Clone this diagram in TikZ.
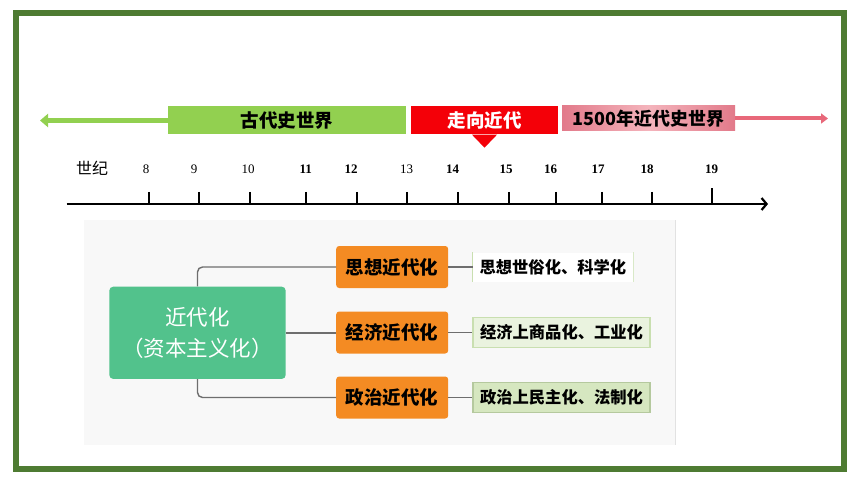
\documentclass[tikz,border=0pt]{standalone}
\usepackage{fontspec}
\setmainfont{Liberation Serif}
\newfontfamily\cjk{Noto Sans CJK SC}
\usetikzlibrary{arrows.meta}
\definecolor{framegreen}{HTML}{4E7B32}
\definecolor{lightgreen}{HTML}{92D050}
\definecolor{redbox}{HTML}{F40008}
\definecolor{pinkbox}{HTML}{F4B4BC}
\definecolor{pinkedge}{HTML}{E27A8A}
\definecolor{pinkarrow}{HTML}{E8687A}
\definecolor{nodegreen}{HTML}{52C28C}
\definecolor{orangebox}{HTML}{F48B23}
\definecolor{connector}{HTML}{6E6E6E}
\definecolor{panelbg}{HTML}{F8F8F8}
\definecolor{paneledge}{HTML}{E2E2E2}
\definecolor{labA}{HTML}{C9DFB0}
\definecolor{labBfill}{HTML}{EAF3DF}
\definecolor{labCfill}{HTML}{D6E7C0}
\tikzset{
  era/.style={minimum height=28pt, inner sep=0pt, font=\cjk\bfseries\fontsize{18.5}{18.5}\selectfont},
  num/.style={font=\fontsize{13}{13}\selectfont, inner sep=0pt},
  numb/.style={num, font=\bfseries\fontsize{13}{13}\selectfont},
  tick/.style={line width=2pt},
  orangenode/.style={fill=orangebox, rounded corners=3pt, minimum width=112pt, minimum height=42pt, inner sep=0pt, font=\cjk\bfseries\fontsize{18.5}{18.5}\selectfont},
  labelbox/.style={minimum height=30pt, inner sep=0pt, font=\cjk\bfseries\fontsize{16.3}{16.3}\selectfont},
  conn/.style={draw=connector, line width=1.4pt, rounded corners=5pt}
}
\begin{document}
\begin{tikzpicture}[x=1pt,y=-1pt]
\path[use as bounding box] (0,0) rectangle (860,484);
\fill[white] (0,0) rectangle (860,484);
% frame
\draw[framegreen, line width=6pt] (15.5,13.5) rectangle (844,469);

% era boxes
\node[era, fill=lightgreen, minimum width=237.7pt] (gbox) at (286.9,120.5) {古代史世界};
\node[era, fill=redbox, minimum width=147pt, text=white] (rbox) at (484.5,120.5) {\raisebox{-2pt}{走向近代}};
\fill[redbox] ([xshift=-12.5pt]rbox.south) -- ([xshift=12.5pt]rbox.south) -- ([yshift=-13pt]rbox.south) -- cycle;
\node[era, left color=pinkedge, right color=pinkedge, middle color=pinkbox, minimum width=173pt, minimum height=25pt, font=\cjk\bfseries\fontsize{18}{18}\selectfont] (pbox) at (648.5,118.5) {1500年近代史世界};
\coordinate (gend) at (40,120.5);
\coordinate (pend) at (828,118.5);
\draw[lightgreen, line width=5pt, -{Triangle[length=8pt,width=13pt]}] (gbox.west) -- (gend);
\draw[pinkarrow, line width=4pt, -{Triangle[length=7pt,width=10pt]}] (pbox.east) -- (pend);

% century labels
\node[font=\cjk\fontsize{16}{16}\selectfont, inner sep=0pt] (sj) at (92,168) {世纪};
\node[num] (n8) at (146,169.5) {8};
\node[num] (n9) at (194,169.5) {9};
\node[num] (n10) at (248,169.5) {10};
\node[numb] (n11) at (305.7,169.5) {11};
\node[numb] (n12) at (351,169.5) {12};
\node[num] (n13) at (406.7,169.5) {13};
\node[numb] (n14) at (452.7,169.5) {14};
\node[numb] (n15) at (506,169.5) {15};
\node[numb] (n16) at (550.7,169.5) {16};
\node[numb] (n17) at (598,169.5) {17};
\node[numb] (n18) at (647,169.5) {18};
\node[numb] (n19) at (711.7,169.5) {19};

% axis
\coordinate (axstart) at (66.7,204);
\coordinate (axend) at (768,204);
\draw[line width=2.5pt, -{Straight Barb[length=5pt,width=12pt,line width=2.2pt]}] (axstart) -- (axend);
\foreach \x in {149,199,250,306,356.7,406.7,458,509,555.7,601.7,651.7}
  \draw[tick] (\x,192) -- (\x,204);
\draw[tick] (711.7,188.5) -- (711.7,204);

% lower panel
\fill[panelbg] (84,220) rectangle (675,445);
\draw[paneledge, line width=1pt] (675,220) -- (675,445);

\node[fill=nodegreen, rounded corners=4pt, minimum width=176.4pt, minimum height=92.3pt, inner sep=0pt, text=white, align=center, font=\cjk\fontsize{21.5}{31}\selectfont] (g) at (197.5,332.8) {近代化\\（资本主义化）};

\node[orangenode] (o1) at (392.2,267) {思想近代化};
\node[orangenode] (o2) at (392.2,332.5) {经济近代化};
\node[orangenode] (o3) at (392.2,397.5) {政治近代化};

\node[labelbox, fill=white, minimum width=160.3pt, minimum height=29pt] (l1) at (552.9,267) {思想世俗化、科学化};
\draw[labA, line width=1.5pt] (l1.north west) -- (l1.south west);
\draw[labA!70, line width=1pt] (l1.north east) -- (l1.south east);
\node[labelbox, fill=labBfill, draw=labA, line width=1.2pt, minimum width=177pt] (l2) at (561.5,332.5) {经济上商品化、工业化};
\node[labelbox, fill=labCfill, draw=labA!90!black, line width=1.2pt, minimum width=177pt] (l3) at (561.5,397.5) {政治上民主化、法制化};

\draw[conn] (g.north) |- (o1.west);
\draw[conn] (g.east) -- (g.east -| o2.west);
\draw[conn] (g.south) |- (o3.west);
\draw[conn] (o1.east) -- (l1.west);
\draw[conn] (o2.east) -- (l2.west);
\draw[conn] (o3.east) -- (l3.west);
\end{tikzpicture}
\end{document}
